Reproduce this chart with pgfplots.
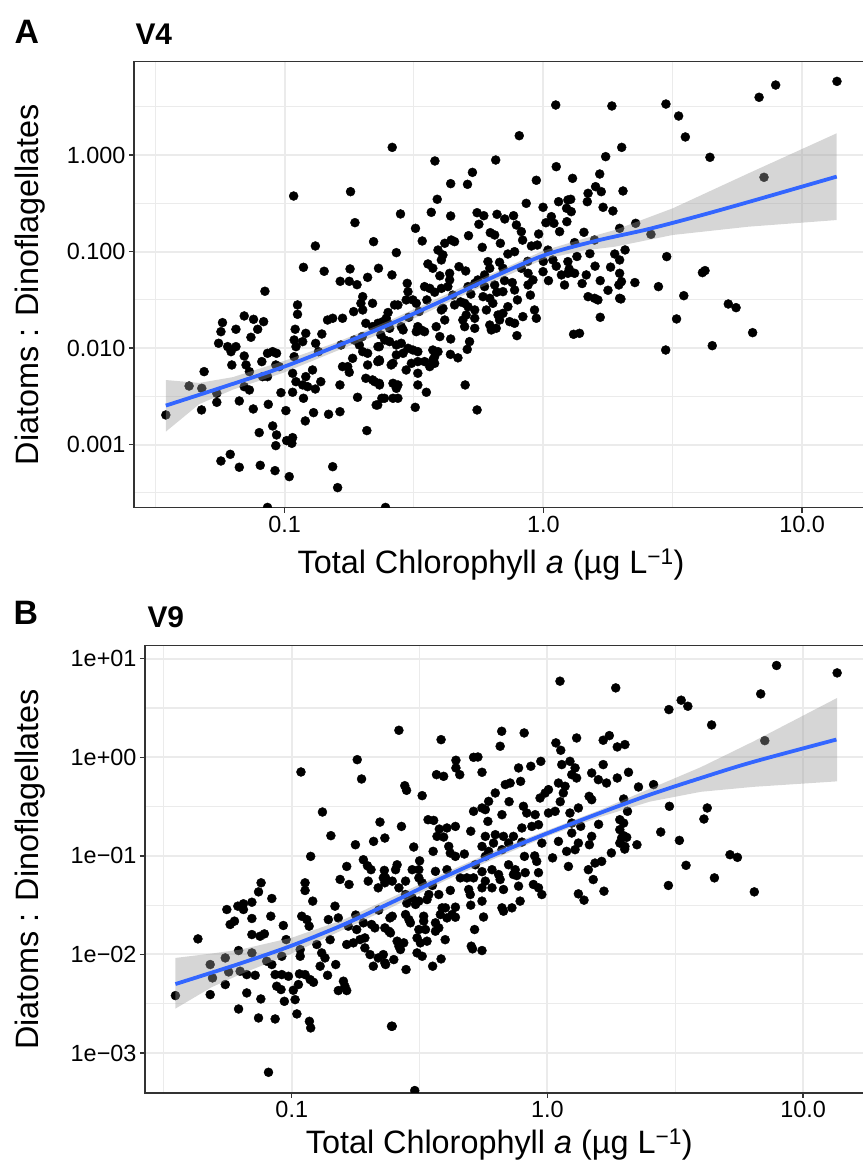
\documentclass[border=0pt]{standalone}
\usepackage{fontspec}
\setmainfont{Liberation Sans}
\usepackage{pgfplots}
\pgfplotsset{compat=1.18}
\usepackage{pgfplotstable}
\definecolor{smoothc}{HTML}{3366FF}
\definecolor{gridc}{HTML}{EBEBEB}
\definecolor{framec}{HTML}{333333}
\definecolor{ribbonc}{HTML}{999999}

% Panel A (V4): log10 of chlorophyll and of the ratio
\pgfplotstableread{
lx ly
-0.965 -0.423
-0.745 -0.378
-0.728 -0.699
-0.881 -0.941
-0.656 -0.896
-0.927 -1.162
-0.847 -1.203
-0.747 -1.179
-0.637 -1.172
-0.785 -1.307
-0.750 -1.307
-0.720 -1.342
-0.679 -1.266
-1.076 -1.41
0.048 0.52
0.265 0.51
-0.584 0.081
-0.093 0.202
0.303 0.081
-0.419 -0.06
-0.184 -0.05
0.241 -0.015
0.050 -0.119
-0.274 -0.178
0.113 -0.24
-0.027 -0.26
-0.358 -0.295
-0.293 -0.302
0.218 -0.195
0.202 -0.326
0.173 -0.395
0.224 -0.378
0.308 -0.371
-0.410 -0.457
-0.066 -0.499
0.170 -0.482
0.059 -0.482
0.095 -0.464
0.106 -0.457
0.231 -0.540
0.269 -0.578
-0.001 -0.54
0.090 -0.55
0.108 -0.585
-0.552 -0.609
-0.433 -0.592
-0.358 -0.63
-0.256 -0.596
-0.230 -0.627
-0.179 -0.613
-0.149 -0.661
-0.115 -0.627
0.031 -0.637
0.041 -0.706
0.091 -0.689
-0.249 -0.716
-0.104 -0.723
-0.085 -0.792
-0.494 -0.758
-0.289 -0.834
-0.205 -0.803
-0.188 -0.827
-0.166 -0.913
-0.018 -0.817
0.063 -0.792
0.157 -0.799
0.295 -0.758
-0.468 -0.889
-0.381 -0.913
-0.356 -0.879
-0.343 -0.896
-0.236 -0.955
-0.046 -0.941
-0.023 -0.931
0.018 -0.983
0.121 -0.906
0.198 -0.879
-0.407 -0.983
-0.388 -1.034
-0.394 -1.086
-0.568 -1.01
-0.137 -1.024
-0.111 -1.0
0.037 -1.086
0.095 -1.103
0.276 -1.024
0.295 -1.086
-0.585 -1.241
-0.526 -1.328
-0.446 -1.127
-0.427 -1.172
-0.326 -1.155
-0.362 -1.224
-0.362 -1.293
-0.214 -1.103
-0.207 -1.172
-0.227 -1.241
-0.253 -1.293
-0.169 -1.11
-0.156 -1.172
-0.085 -1.172
-0.059 -1.224
-0.040 -1.293
-0.001 -1.207
0.070 -1.241
0.095 -1.224
0.121 -1.224
0.166 -1.241
0.082 -1.345
0.295 -1.224
0.302 -1.31
-0.459 -1.362
-0.439 -1.38
-0.394 -1.38
-0.369 -1.362
-0.291 -1.362
-0.265 -1.328
-0.227 -1.362
-0.188 -1.345
-0.111 -1.397
-0.059 -1.345
1.135 0.765
0.898 0.727
0.834 0.60
0.474 0.53
0.523 0.406
0.549 0.189
0.644 -0.022
0.853 -0.229
0.357 -0.706
0.416 -0.82
0.316 -0.982
0.477 -1.051
0.354 -1.32
0.292 -1.345
0.445 -1.362
0.615 -1.217
0.625 -1.196
-0.698 -1.466
-0.660 -1.535
-0.705 -1.535
-0.950 -1.552
-0.950 -1.649
-0.733 -1.621
-0.698 -1.604
-1.156 -1.666
-1.120 -1.701
-1.081 -1.725
-1.240 -1.735
-1.246 -1.829
-1.188 -1.804
-1.104 -1.804
-1.130 -1.887
-0.959 -1.804
-0.918 -1.846
-0.856 -1.853
-0.834 -1.708
-0.814 -1.69
-0.776 -1.69
-0.686 -1.742
-0.660 -1.777
-0.628 -1.863
-1.255 -1.949
-1.220 -1.984
-1.207 -2.036
-1.188 -1.984
-0.963 -1.915
-0.930 -1.932
-0.956 -1.984
-0.782 -1.967
-0.731 -1.915
-0.711 -1.967
-0.698 -2.036
-0.679 -2.053
-0.634 -1.984
-0.634 -2.122
-1.156 -2.081
-1.088 -2.139
-1.066 -2.053
-1.046 -2.036
-1.031 -2.053
-0.963 -2.088
-0.869 -2.036
-1.311 -2.243
-1.204 -2.174
-1.149 -2.174
-1.136 -2.243
-1.034 -2.174
-1.021 -2.191
-1.085 -2.295
-1.066 -2.295
-0.969 -2.26
-0.918 -2.295
-0.892 -2.226
-0.776 -2.191
-0.756 -2.191
-0.737 -2.105
-0.679 -2.174
-0.640 -2.139
-0.686 -2.312
-0.660 -2.329
-0.634 -2.364
-1.369 -2.392
-1.320 -2.416
-1.262 -2.468
-1.262 -2.561
-1.321 -2.640
-1.459 -2.692
-1.156 -2.399
-1.136 -2.433
-1.175 -2.547
-1.121 -2.63
-1.063 -2.582
-1.014 -2.461
-0.969 -2.457
-0.956 -2.347
-0.930 -2.381
-0.911 -2.399
-0.881 -2.423
-0.860 -2.347
-0.927 -2.519
-0.995 -2.647
-0.920 -2.754
-0.888 -2.668
-0.830 -2.685
-0.786 -2.658
-0.786 -2.381
-0.718 -2.509
-0.640 -2.588
-0.624 -2.519
-0.682 -2.854
-1.098 -2.875
-1.046 -2.806
-1.031 -2.899
-1.034 -3.01
-0.992 -2.958
-0.969 -2.927
-0.972 -2.986
-1.246 -3.169
-1.210 -3.10
-1.175 -3.234
-1.094 -3.214
-1.037 -3.269
-0.982 -3.331
-0.814 -3.228
-0.795 -3.445
-1.066 -3.65
-0.523 -1.414
-0.530 -1.500
-0.504 -1.500
-0.491 -1.535
-0.156 -1.414
0.173 -1.466
0.198 -1.483
0.211 -1.5
0.295 -1.483
0.220 -1.68
0.117 -1.856
0.140 -1.846
-0.639 -1.742
-0.620 -1.725
-0.575 -1.552
-0.562 -1.552
-0.607 -1.69
-0.601 -1.742
-0.594 -1.794
-0.549 -1.777
-0.542 -1.811
-0.485 -1.777
-0.472 -1.811
-0.491 -1.829
-0.459 -1.829
-0.414 -1.777
-0.381 -1.708
-0.394 -1.604
-0.388 -1.587
-0.343 -1.552
-0.304 -1.535
-0.291 -1.57
-0.298 -1.656
-0.265 -1.604
-0.265 -1.69
-0.311 -1.708
-0.304 -1.777
-0.265 -1.794
-0.233 -1.466
-0.207 -1.483
-0.195 -1.535
-0.220 -1.604
-0.175 -1.656
-0.156 -1.639
-0.169 -1.708
-0.137 -1.57
-0.207 -1.76
-0.182 -1.794
-0.201 -1.811
-0.130 -1.725
-0.111 -1.742
-0.079 -1.673
-0.034 -1.604
-0.027 -1.69
-0.102 -1.87
-0.639 -1.984
-0.613 -1.915
-0.594 -1.932
-0.633 -2.133
-0.588 -2.174
-0.581 -2.157
-0.568 -1.967
-0.549 -1.949
-0.523 -2.001
-0.504 -2.019
-0.485 -2.036
-0.568 -2.070
-0.542 -2.053
-0.427 -2.019
-0.407 -2.036
-0.420 -2.088
-0.427 -2.122
-0.358 -1.905
-0.359 -2.064
-0.285 -1.932
-0.294 -2.012
-0.510 -2.157
-0.485 -2.139
-0.459 -2.139
-0.439 -2.191
-0.420 -2.157
-0.530 -2.226
-0.485 -2.260
-0.652 -2.347
-0.633 -2.381
-0.581 -2.364
-0.562 -2.381
-0.568 -2.416
-0.581 -2.519
-0.485 -2.381
-0.452 -2.457
-0.614 -2.519
-0.562 -2.519
-0.646 -2.589
-0.495 -2.613
-0.302 -2.381
-0.256 -2.64
-0.610 -3.65
0.300 -1.490
0.543 -1.456
0.715 -1.542
0.745 -1.58
0.515 -1.697
0.809 -1.839
0.473 -2.019
0.653 -1.974
-0.40 -1.25
-0.30 -1.20
-0.15 -1.30
0.00 -1.10
0.05 -1.15
0.20 -1.15
0.22 -1.30
0.25 -1.40
-0.05 -1.45
-0.35 -1.45
-0.45 -1.50
0.13 -1.05
0.15 -1.33
-0.10 -1.50
-0.48 -1.62
-0.42 -1.42
-0.32 -1.52
-0.28 -1.44
-0.18 -1.42
-0.12 -1.32
-0.06 -1.10
0.02 -1.30
0.10 -1.18
0.18 -1.02
0.26 -1.16
-0.60 -1.63
-0.52 -1.68
-0.70 -1.88
-0.88 -1.95
-0.40 -1.88
-0.33 -2.10
-0.75 -2.25
-0.08 -0.88
0.01 -0.70
}\pointsA

\pgfplotstableread{
lx ly
-1.459 -2.33
-1.33 -2.36
-1.2 -2.30
-1.0 -2.13
-0.8 -1.94
-0.6 -1.72
-0.3 -1.35
0 -0.99
0.15 -0.87
0.277 -0.775
0.5 -0.551
0.793 -0.188
1.134 0.227
1.134 -0.672
0.793 -0.741
0.5 -0.827
0.277 -0.948
0.15 -0.99
0 -1.08
-0.3 -1.44
-0.6 -1.82
-0.8 -2.03
-1.0 -2.25
-1.2 -2.43
-1.33 -2.58
-1.459 -2.865
}\ribbonA

\pgfplotstableread{
lx ly
-1.459 -2.595
-1.2 -2.37
-1.0 -2.19
-0.8 -1.98
-0.6 -1.76
-0.4 -1.52
-0.2 -1.27
0 -1.04
0.2 -0.89
0.4 -0.77
0.6 -0.63
0.8 -0.48
1.134 -0.222
}\lineA

% Panel B (V9)
\pgfplotstableread{
lx ly
-0.964 -0.149
-0.744 -0.024
-0.727 -0.220
-0.880 -0.555
-0.655 -0.657
-0.847 -0.795
-0.751 -0.887
-0.680 -0.853
-0.636 -0.819
-0.926 -1.005
-0.785 -1.107
-0.720 -1.039
-0.704 -1.1
-0.690 -1.14
-0.638 -1.147
0.049 0.772
0.267 0.704
-0.581 0.274
-0.416 0.179
-0.179 0.264
-0.185 0.112
-0.091 0.247
0.033 0.146
0.052 0.071
0.114 0.196
0.218 0.173
0.242 0.22
0.273 0.105
0.303 0.129
-0.358 -0.03
-0.358 -0.108
-0.343 -0.176
-0.289 0.0
-0.272 0.003
-0.434 -0.176
-0.406 -0.193
-0.256 -0.152
-0.113 -0.108
-0.065 -0.091
-0.026 -0.041
0.056 -0.074
0.088 -0.041
0.108 -0.108
0.095 -0.176
0.114 -0.210
0.043 -0.261
0.069 -0.294
0.062 -0.362
0.173 -0.159
0.199 -0.227
0.218 -0.074
0.231 -0.261
0.273 -0.210
-0.558 -0.288
-0.551 -0.335
-0.490 -0.389
-0.165 -0.277
-0.146 -0.261
-0.105 -0.244
-0.204 -0.362
-0.230 -0.447
-0.289 -0.548
-0.256 -0.514
-0.243 -0.531
-0.178 -0.582
-0.233 -0.650
-0.094 -0.497
-0.081 -0.565
-0.029 -0.413
-0.009 -0.362
0.004 -0.328
-0.048 -0.582
0.004 -0.565
0.030 -0.548
0.163 -0.396
0.173 -0.430
-0.467 -0.633
-0.445 -0.640
-0.571 -0.701
-0.423 -0.728
-0.393 -0.717
-0.360 -0.701
-0.432 -0.802
-0.406 -0.809
-0.523 -0.91
-0.447 -0.954
-0.386 -0.904
-0.380 -0.971
-0.325 -0.981
-0.360 -1.005
-0.243 -0.802
-0.204 -0.785
-0.211 -0.870
-0.256 -0.904
-0.230 -0.954
-0.243 -1.005
-0.172 -0.802
-0.133 -0.802
-0.152 -0.870
-0.178 -0.937
-0.100 -0.717
-0.061 -0.701
-0.035 -0.684
-0.090 -1.005
-0.042 -1.056
-0.022 -0.870
0.043 -0.853
0.088 -0.565
0.095 -0.667
0.095 -0.768
0.121 -0.514
0.121 -0.870
0.075 -0.954
0.108 -0.937
0.164 -0.887
0.173 -0.802
0.082 -1.107
0.186 -1.073
0.212 -1.056
0.160 -1.14
0.283 -0.633
0.283 -0.734
0.290 -0.819
0.283 -0.870
0.303 -0.904
-0.588 -1.09
-0.594 -1.14
-0.529 -1.14
-0.503 -1.14
-0.438 -1.157
-0.393 -1.14
-0.282 -1.09
-0.256 -1.16
-0.217 -1.14
-0.152 -1.09
-0.126 -1.14
-0.087 -1.17
-0.035 -1.17
0.896 0.931
1.133 0.856
0.834 0.643
0.523 0.579
0.549 0.518
0.475 0.484
0.642 0.328
0.850 0.169
0.317 -0.152
0.356 -0.301
0.415 -0.277
0.298 -0.423
0.313 -0.548
0.477 -0.497
0.625 -0.514
0.612 -0.626
0.298 -0.667
0.298 -0.795
0.310 -0.812
0.443 -0.758
0.516 -0.843
0.350 -0.887
0.302 -0.931
0.714 -0.988
0.743 -1.015
0.542 -1.096
-1.120 -1.273
-1.130 -1.365
-1.078 -1.432
-0.948 -1.273
-0.948 -1.351
-0.918 -1.459
-0.811 -1.239
-0.776 -1.29
-0.701 -1.256
-0.662 -1.324
-0.642 -1.223
-0.636 -1.273
-0.831 -1.51
-1.254 -1.544
-1.211 -1.51
-1.189 -1.486
-1.156 -1.47
-1.189 -1.544
-1.156 -1.635
-1.082 -1.612
-1.241 -1.696
-1.224 -1.662
-1.367 -1.842
-1.156 -1.798
-1.124 -1.815
-1.107 -1.791
-1.033 -1.706
-1.022 -1.849
-0.961 -1.612
-0.941 -1.646
-0.932 -1.713
-0.857 -1.646
-0.818 -1.629
-0.779 -1.713
-0.746 -1.747
-0.720 -1.679
-0.688 -1.696
-0.675 -1.730
-0.636 -1.730
-0.616 -1.629
-0.785 -1.899
-0.759 -1.882
-0.733 -1.849
-0.714 -1.832
-0.714 -1.933
-0.694 -2.001
-0.662 -2.035
-0.642 -2.001
-0.681 -2.119
-0.636 -2.085
-0.902 -1.899
-0.883 -1.984
-0.870 -2.035
-0.889 -2.119
-0.828 -2.102
-0.860 -2.211
-0.798 -2.271
-0.792 -2.322
-0.818 -2.366
-0.785 -2.366
-0.967 -2.018
-0.967 -1.95
-1.208 -1.960
-1.156 -1.984
-1.26 -2.035
-1.319 -2.102
-1.247 -2.177
-1.31 -2.238
-1.26 -2.305
-1.319 -2.407
-1.455 -2.417
-1.202 -2.170
-1.176 -2.204
-1.143 -2.211
-1.098 -2.068
-1.078 -2.102
-1.039 -2.018
-1.065 -2.204
-1.039 -2.204
-1.013 -2.221
-1.059 -2.322
-1.042 -2.356
-0.970 -2.197
-0.948 -2.204
-0.928 -2.255
-0.915 -2.282
-0.974 -2.305
-0.994 -2.363
-1.176 -2.39
-1.121 -2.451
-1.029 -2.475
-0.987 -2.458
-1.208 -2.553
-1.130 -2.644
-1.065 -2.654
-0.980 -2.603
-0.931 -2.678
-0.926 -2.745
-0.610 -2.728
-1.091 -3.195
0.179 -1.24
0.121 -1.385
0.143 -1.449
0.221 -1.358
-0.022 -1.392
-0.035 -1.324
-0.055 -1.29
-0.107 -1.459
-0.139 -1.527
-0.172 -1.561
-0.178 -1.527
-0.113 -1.307
-0.133 -1.189
-0.172 -1.341
-0.217 -1.324
-0.191 -1.189
-0.185 -1.24
-0.243 -1.256
-0.256 -1.324
-0.302 -1.392
-0.308 -1.341
-0.256 -1.459
-0.289 -1.223
-0.315 -1.223
-0.341 -1.223
-0.425 -1.392
-0.464 -1.392
-0.471 -1.443
-0.503 -1.459
-0.516 -1.493
-0.412 -1.527
-0.399 -1.527
-0.360 -1.52
-0.419 -1.595
-0.393 -1.629
-0.373 -1.595
-0.360 -1.622
-0.438 -1.679
-0.425 -1.730
-0.438 -1.764
-0.484 -1.612
-0.484 -1.662
-0.555 -1.595
-0.542 -1.646
-0.536 -1.679
-0.607 -1.612
-0.620 -1.764
-0.614 -1.781
-0.503 -1.747
-0.477 -1.747
-0.510 -1.832
-0.471 -1.865
-0.497 -1.882
-0.588 -1.865
-0.581 -1.916
-0.562 -1.882
-0.575 -1.950
-0.510 -1.984
-0.490 -2.018
-0.601 -2.052
-0.633 -2.102
-0.553 -2.153
-0.449 -2.119
-0.416 -2.045
-0.285 -1.747
-0.298 -1.916
-0.293 -1.943
-0.256 -1.96
-0.607 -2.728
-0.519 -3.38
-0.633 -1.223
-0.607 -1.256
-0.581 -1.324
-0.555 -1.392
-0.529 -1.426
-0.555 -1.256
-0.503 -1.223
-0.490 -1.273
0.473 -1.300
0.653 -1.223
0.809 -1.365
-0.45 -1.30
-0.38 -1.35
-0.30 -1.50
-0.25 -1.62
-0.12 -1.20
-0.05 -1.00
0.02 -1.02
0.13 -0.70
0.20 -0.68
0.25 -0.97
-0.10 -0.86
-0.30 -0.75
-0.50 -1.05
-0.66 -1.55
-0.55 -1.48
-0.75 -1.60
-0.85 -1.85
-0.40 -1.85
0.05 -0.45
-0.15 -0.45
}\pointsB

\pgfplotstableread{
lx ly
-1.455 -2.035
-1.312 -1.99
-1.2 -1.95
-1.0 -1.83
-0.8 -1.65
-0.6 -1.41
-0.4 -1.17
-0.2 -0.94
0 -0.74
0.2 -0.54
0.4 -0.32
0.6 -0.10
0.805 0.16
1.133 0.602
1.133 -0.244
0.805 -0.30
0.6 -0.35
0.4 -0.45
0.2 -0.61
0 -0.80
-0.2 -1.02
-0.4 -1.25
-0.6 -1.51
-0.8 -1.75
-1.0 -1.99
-1.2 -2.20
-1.312 -2.33
-1.455 -2.549
}\ribbonB

\pgfplotstableread{
lx ly
-1.455 -2.30
-1.2 -2.09
-1.0 -1.91
-0.8 -1.70
-0.6 -1.46
-0.4 -1.21
-0.2 -0.98
0 -0.77
0.2 -0.57
0.4 -0.38
0.6 -0.21
0.8 -0.05
1.13 0.18
}\lineB

\pgfplotsset{
  panel/.style={
    scale only axis,
    anchor=south west,
    axis line style={draw=framec, line width=1.4bp},
    grid=both,
    major grid style={draw=gridc, line width=2bp},
    minor grid style={draw=gridc, line width=1.1bp},
    tick style={draw=framec, line width=1.4bp},
    major tick length=5bp,
    minor tick length=0pt,
    tick align=outside,
    xtick pos=left, ytick pos=left,
    ticklabel style={font=\fontsize{23.5}{26}\selectfont, text=black},
    label style={font=\fontsize{32.5}{36}\selectfont},
    clip marker paths=true,
    xtick={-1,0,1},
    minor xtick={-1.5,-0.5,0.5},
    xticklabels={0.1,1.0,10.0},
    xlabel={Total Chlorophyll \textit{a} (µg L\textsuperscript{−1})},
    ylabel={Diatoms : Dinoflagellates},
  },
  pts/.style={only marks, mark=*, mark size=4.5bp, mark options={fill=black, draw=none}},
  rib/.style={fill=ribbonc, fill opacity=0.4, draw=none},
  sm/.style={color=smoothc, line width=3.8bp, smooth, tension=0.5},
}

\begin{document}
\begin{tikzpicture}
% Panel A
\begin{axis}[panel,
  at={(134bp,659.3bp)}, width=736.6bp, height=446bp,
  xmin=-1.582, xmax=1.265, ymin=-3.653, ymax=0.969,
  ytick={-3,-2,-1,0},
  minor ytick={-3.5,-2.5,-1.5,-0.5,0.5},
  yticklabels={0.001,0.010,0.100,1.000},
  xlabel style={at={(axis description cs:0.4847,-0.128)}, anchor=center},
  ylabel style={at={(axis description cs:-0.1412,0.5)}, anchor=center, rotate=0},
]
\addplot[pts] table[x=lx, y=ly] {\pointsA};
\addplot[rib] table[x=lx, y=ly] {\ribbonA} -- cycle;
\addplot[sm] table[x=lx, y=ly] {\lineA};
\end{axis}
% Panel B
\begin{axis}[panel,
  at={(145bp,74bp)}, width=725.9bp, height=447.3bp,
  xmin=-1.574, xmax=1.265, ymin=-3.405, ymax=1.132,
  ytick={-3,-2,-1,0,1},
  minor ytick={-2.5,-1.5,-0.5,0.5},
  yticklabels={1e−03,1e−02,1e−01,1e+00,1e+01},
  xlabel style={at={(axis description cs:0.488,-0.116)}, anchor=center},
  ylabel style={at={(axis description cs:-0.1584,0.5)}, anchor=center, rotate=0},
]
\addplot[pts] table[x=lx, y=ly] {\pointsB};
\addplot[rib] table[x=lx, y=ly] {\ribbonB} -- cycle;
\addplot[sm] table[x=lx, y=ly] {\lineB};
\end{axis}
\node[anchor=base west, font=\bfseries\fontsize{34}{36}\selectfont] at (11bp,1123bp) {A};
\node[anchor=base west, font=\bfseries\fontsize{30}{32}\selectfont] at (132bp,1122bp) {V4};
\node[anchor=base west, font=\bfseries\fontsize{34}{36}\selectfont] at (10bp,542bp) {B};
\node[anchor=base west, font=\bfseries\fontsize{30}{32}\selectfont] at (144bp,539bp) {V9};
\pgfresetboundingbox
\path[use as bounding box] (0bp,0bp) rectangle (863bp,1167bp);
\end{tikzpicture}
\end{document}
